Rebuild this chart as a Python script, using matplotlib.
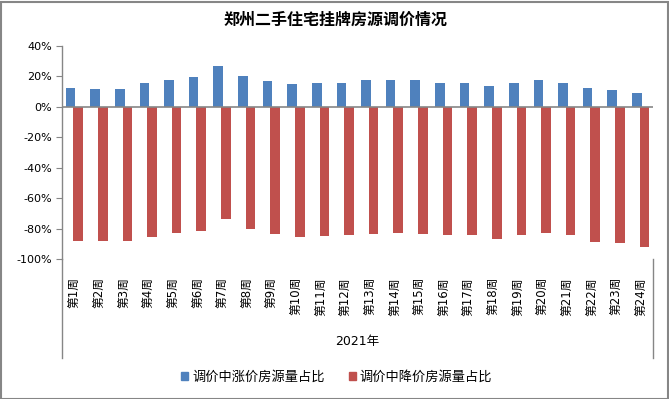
import matplotlib
matplotlib.use("Agg")
import matplotlib.pyplot as plt
from matplotlib.lines import Line2D
from matplotlib.patches import Rectangle
import numpy as np

plt.rcParams['font.family'] = ['DejaVu Sans', 'Noto Sans CJK SC']

title = "郑州二手住宅挂牌房源调价情况"
weeks = [f"第{i}周" for i in range(1, 25)]
group_label = "2021年"
series_names = ["调价中涨价房源量占比", "调价中降价房源量占比"]
up = [12.1, 12.0, 12.0, 15.4, 17.4, 19.3, 26.6, 20.0, 16.7, 14.7, 15.4, 16.0,
      17.4, 17.4, 17.4, 16.0, 16.0, 13.4, 16.0, 17.4, 16.0, 12.1, 11.4, 8.8]
down = [-88.1, -88.0, -88.0, -85.5, -82.9, -81.5, -73.6, -80.2, -83.5, -85.5, -84.8, -84.2,
        -83.5, -82.9, -83.5, -84.2, -84.2, -86.8, -84.2, -82.9, -84.2, -88.8, -89.5, -92.1]
yticks = [40, 20, 0, -20, -40, -60, -80, -100]
colors = ["#4F81BD", "#C0504D"]

W, H = 669, 399
fig = plt.figure(figsize=(W / 100, H / 100), dpi=100)

def fx(px):
    return px / W

def fy(py):
    return 1 - py / H

left, right, top, bottom = 62, 653, 46, 259
ax = fig.add_axes([fx(left), fy(bottom), fx(right) - fx(left), fy(top) - fy(bottom)])

x = np.arange(len(weeks))
bw = 0.39
ax.bar(x - 0.155, up, width=bw, color=colors[0], zorder=2)
ax.bar(x + 0.155, down, width=bw, color=colors[1], zorder=2)
ax.set_xlim(-0.5, len(weeks) - 0.5)
ax.set_ylim(-100, 40)
ax.axhline(0, color="#868686", lw=1.2, zorder=3)

for s in ["top", "right", "bottom"]:
    ax.spines[s].set_visible(False)
ax.spines["left"].set_color("#868686")
ax.spines["left"].set_linewidth(1.0)
ax.set_yticks(yticks)
ax.set_yticklabels([f"{v}%" for v in yticks], fontsize=8)
ax.tick_params(axis="y", direction="out", length=4, color="#868686", pad=3)

ax.set_xticks(x)
ax.set_xticklabels(weeks, rotation=90, fontsize=8.5, va="top", ha="center")
ax.tick_params(axis="x", length=0, pad=13)

# category group separators
fig.add_artist(Line2D([fx(left), fx(left)], [fy(bottom), fy(358)], color="#868686", lw=1.0))
fig.add_artist(Line2D([fx(right), fx(right)], [fy(bottom), fy(358)], color="#868686", lw=1.0))
fig.text(fx(357), fy(341), group_label, fontsize=9, ha="center", va="center")

fig.text(fx(335), fy(20), title, fontsize=11.5, fontweight="bold", ha="center", va="center")

# legend
for (sx, tx), name, c in zip([(181, 192), (349, 359)], series_names, colors):
    fig.add_artist(Rectangle((fx(sx), fy(380)), fx(7), 8 / H, color=c, transform=fig.transFigure))
    fig.text(fx(tx), fy(377), name, fontsize=9.5, ha="left", va="center")

# chart border
fig.add_artist(Rectangle((0.5 / W, 0.5 / H), 1 - 2 / W, 1 - 2.5 / H, fill=False,
                         edgecolor="#868686", lw=1.5, transform=fig.transFigure))

fig.savefig("out.png", dpi=100)
